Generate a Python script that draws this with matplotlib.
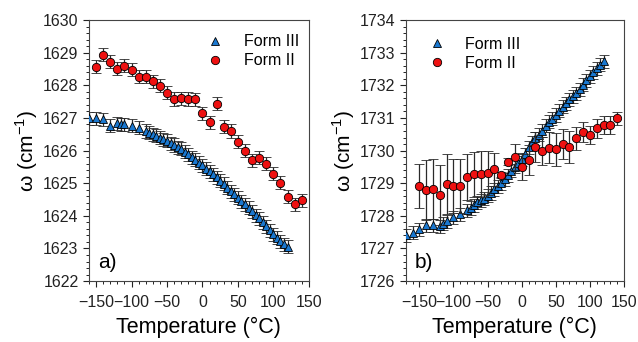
import numpy as np
import matplotlib
matplotlib.use('agg')
import matplotlib.pyplot as plt
from matplotlib.ticker import MultipleLocator

plt.rcParams['font.family'] = ['Liberation Sans', 'DejaVu Sans']

# temperatures (C)
T_II = [-150, -140, -130, -120, -110, -100, -90, -80, -70, -60, -50, -40, -30, -20, -10,
        0, 10, 20, 30, 40, 50, 60, 70, 80, 90, 100, 110, 120, 130, 140]
T_III_a = [-160, -150, -140, -130, -120, -115, -110, -100, -90,
           -80, -75, -70, -65, -60, -55, -50, -45, -40, -35, -30, -25, -20, -15, -10, -5,
           0, 5, 10, 15, 20, 25, 30, 35, 40, 45, 50, 55, 60, 65, 70, 75, 80, 85, 90, 95,
           100, 105, 110, 115, 120]
T_III_b = [-170] + T_III_a

# panel a: 1626-ish band
w_II_a = [1628.57, 1628.93, 1628.72, 1628.50, 1628.60, 1628.47, 1628.26, 1628.26, 1628.13, 1627.99,
          1627.77, 1627.58, 1627.60, 1627.58, 1627.57, 1627.14, 1626.86, 1627.43, 1626.73, 1626.60,
          1626.27, 1626.00, 1625.71, 1625.78, 1625.60, 1625.29, 1625.02, 1624.59, 1624.35, 1624.48]
err_II_a = [0.2] * len(w_II_a)

w_III_a = [1626.99, 1626.99, 1626.96, 1626.76, 1626.83, 1626.81, 1626.80, 1626.76, 1626.70,
           1626.60, 1626.55, 1626.50, 1626.45, 1626.40, 1626.35, 1626.30, 1626.22, 1626.17, 1626.10,
           1626.05, 1625.96, 1625.88, 1625.80, 1625.72, 1625.63, 1625.55, 1625.45, 1625.36, 1625.28,
           1625.18, 1625.08, 1624.98, 1624.86, 1624.76, 1624.66, 1624.56, 1624.45, 1624.36, 1624.25,
           1624.14, 1624.02, 1623.92, 1623.80, 1623.68, 1623.56, 1623.44, 1623.33, 1623.22, 1623.13,
           1623.06]
err_III_a = [0.2] * len(w_III_a)

# panel b: 1730-ish band
w_II_b = [1728.92, 1728.79, 1728.82, 1728.64, 1728.98, 1728.91, 1728.91, 1729.20, 1729.27, 1729.29,
          1729.32, 1729.42, 1729.25, 1729.66, 1729.81, 1729.51, 1729.71, 1730.12, 1729.99, 1730.09,
          1730.04, 1730.20, 1730.11, 1730.37, 1730.57, 1730.47, 1730.68, 1730.78, 1730.78, 1730.99]
err_II_b = [0.68, 0.92, 0.92, 0.91, 0.91, 0.83, 0.83, 0.70, 0.70, 0.71,
            0.67, 0.51, 0.10, 0.10, 0.40, 0.40, 0.46, 0.46, 0.44, 0.48,
            0.50, 0.46, 0.48, 0.35, 0.30, 0.28, 0.30, 0.28, 0.28, 0.20]

w_III_b = [1727.40, 1727.48, 1727.59, 1727.71, 1727.71, 1727.68, 1727.76, 1727.84, 1727.95, 1728.05,
           1728.17, 1728.24, 1728.33, 1728.42, 1728.48, 1728.52, 1728.61, 1728.70, 1728.82, 1728.90,
           1729.00, 1729.12, 1729.25, 1729.38, 1729.51, 1729.62, 1729.73, 1729.88, 1730.10, 1730.25,
           1730.37, 1730.49, 1730.61, 1730.76, 1730.88, 1730.98, 1731.09, 1731.22, 1731.34, 1731.45,
           1731.57, 1731.66, 1731.75, 1731.88, 1732.01, 1732.15, 1732.28, 1732.40, 1732.52, 1732.63,
           1732.74]
err_III_b = [0.2] * len(w_III_b)

fig = plt.figure(figsize=(6.38, 3.42), dpi=100)
axa = fig.add_axes([0.1395, 0.178, 0.3445, 0.7635])
axb = fig.add_axes([0.636, 0.178, 0.342, 0.7635])

ebkw = dict(ls='none', ecolor='#2a2a2a', elinewidth=0.9, capsize=3.5, capthick=0.9,
            markeredgecolor='black', markeredgewidth=0.6)


def panel(ax, T3, w3, e3, T2, w2, e2, xlim, ylim, tag, legx, legy):
    ax.errorbar(T3, w3, yerr=e3, fmt='^', color='#1a78d0', ms=5.5, label='Form III', zorder=3, **ebkw)
    ax.errorbar(T2, w2, yerr=e2, fmt='o', color='#ee1111', ms=6, label='Form II', zorder=4, **ebkw)
    ax.set_xlim(*xlim)
    ax.set_ylim(*ylim)
    ax.set_xticks([-150, -100, -50, 0, 50, 100, 150])
    ax.xaxis.set_minor_locator(MultipleLocator(10))
    ax.yaxis.set_major_locator(MultipleLocator(1))
    ax.yaxis.set_minor_locator(MultipleLocator(0.2))
    ax.yaxis.set_major_formatter(matplotlib.ticker.FormatStrFormatter('%d'))
    ax.tick_params(which='major', direction='out', length=4, width=0.8, labelsize=11.5,
                   colors='#222222', top=False, right=False)
    ax.tick_params(axis='x', which='major', pad=6)
    ax.tick_params(which='minor', direction='out', length=2, width=0.6, top=False, right=False)
    for s in ax.spines.values():
        s.set_linewidth(0.8)
        s.set_color('#444444')
    ax.set_xlabel('Temperature (°C)', fontsize=15.5, labelpad=5)
    ax.set_ylabel(r'ω (cm$^{\mathregular{-1}}$)', fontsize=15, labelpad=2)
    ax.text(0.04, 0.05, tag, transform=ax.transAxes, fontsize=15)
    h, l = ax.get_legend_handles_labels()
    h = [hh[0] for hh in h]
    ax.legend(h, l, loc='upper left', bbox_to_anchor=(legx, legy), frameon=False, fontsize=11.5,
              handletextpad=1.3, labelspacing=0.25, handlelength=1.0, borderaxespad=0.0)


panel(axa, T_III_a, w_III_a, err_III_a, T_II, w_II_a, err_II_a, (-160, 150), (1622, 1630), 'a)', 0.51, 0.97)
panel(axb, T_III_b, w_III_b, err_III_b, T_II, w_II_b, err_II_b, (-170, 150), (1726, 1734), 'b)', 0.075, 0.96)

fig.savefig('out.png', dpi=100)
